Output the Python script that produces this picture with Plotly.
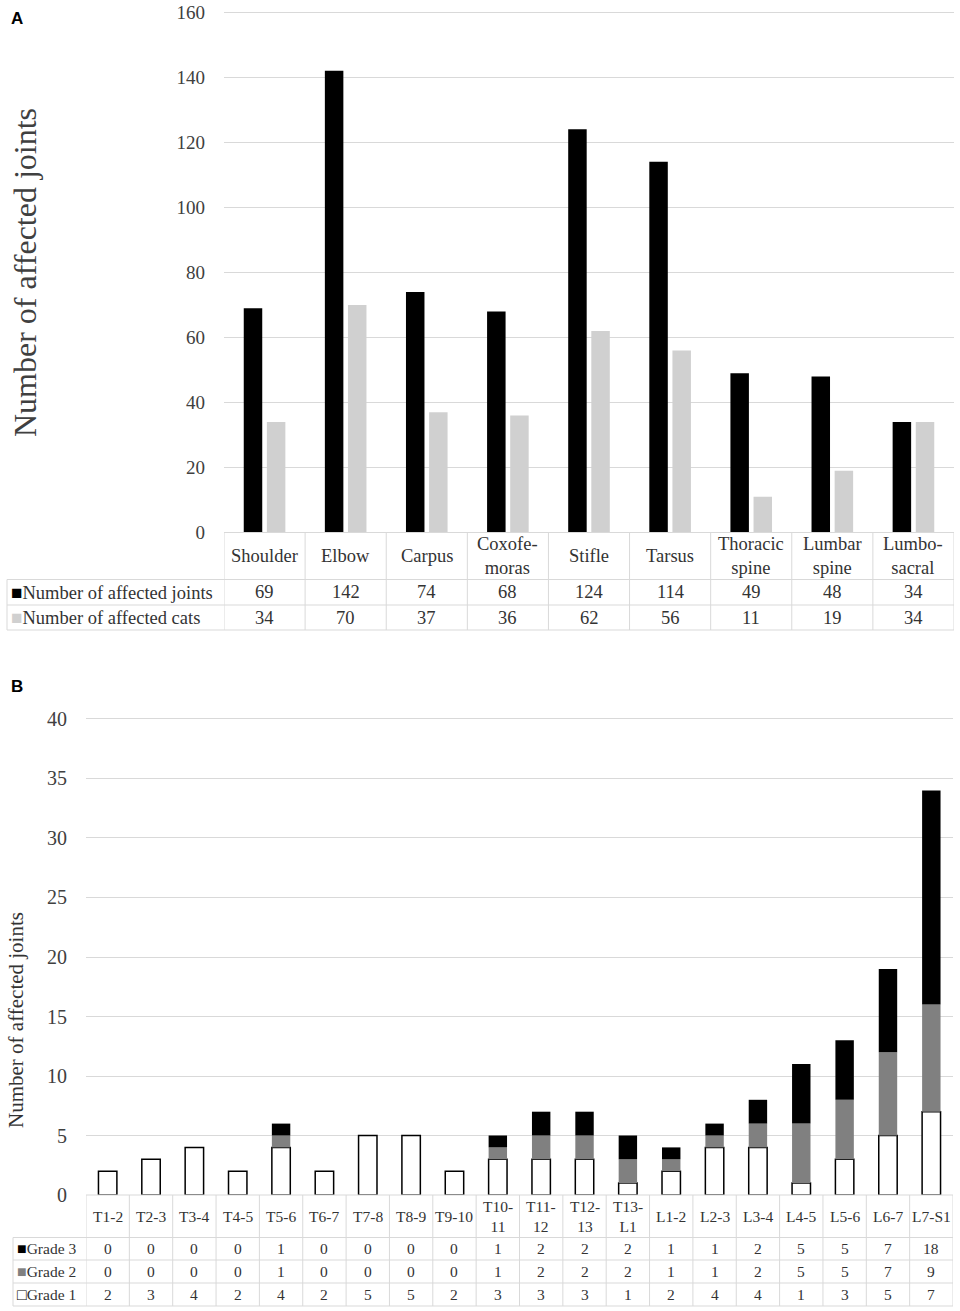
import plotly.graph_objects as go

W, H = 960, 1311

# ---- Panel A data ----
joints = ["Shoulder", "Elbow", "Carpus", "Coxofemoras", "Stifle",
          "Tarsus", "Thoracic spine", "Lumbar spine", "Lumbosacral"]
joint_labels = ["Shoulder", "Elbow", "Carpus", "Coxofe-<br>moras", "Stifle",
                "Tarsus", "Thoracic<br>spine", "Lumbar<br>spine", "Lumbo-<br>sacral"]
affected_joints = [69, 142, 74, 68, 124, 114, 49, 48, 34]
affected_cats = [34, 70, 37, 36, 62, 56, 11, 19, 34]

# ---- Panel B data ----
segments = ["T1-2", "T2-3", "T3-4", "T4-5", "T5-6", "T6-7", "T7-8", "T8-9", "T9-10",
            "T10-11", "T11-12", "T12-13", "T13-L1", "L1-2", "L2-3", "L3-4",
            "L4-5", "L5-6", "L6-7", "L7-S1"]
segment_labels = ["T1-2", "T2-3", "T3-4", "T4-5", "T5-6", "T6-7", "T7-8", "T8-9", "T9-10",
                  "T10-<br>11", "T11-<br>12", "T12-<br>13", "T13-<br>L1", "L1-2", "L2-3",
                  "L3-4", "L4-5", "L5-6", "L6-7", "L7-S1"]
grade3 = [0, 0, 0, 0, 1, 0, 0, 0, 0, 1, 2, 2, 2, 1, 1, 2, 5, 5, 7, 18]
grade2 = [0, 0, 0, 0, 1, 0, 0, 0, 0, 1, 2, 2, 2, 1, 1, 2, 5, 5, 7, 9]
grade1 = [2, 3, 4, 2, 4, 2, 5, 5, 2, 3, 3, 3, 1, 2, 4, 4, 1, 3, 5, 7]

SERIF = "Liberation Serif, Times New Roman, serif"
GRID = "#d9d9d9"
TXT = "#333333"


def px(p):
    return p / W


def py(p):
    return 1 - p / H


fig = go.Figure()

# Panel A bars
fig.add_trace(go.Bar(x=joints, y=affected_joints, name="Number of affected joints",
                     marker=dict(color="#000000", line=dict(width=0)),
                     xaxis="x", yaxis="y"))
fig.add_trace(go.Bar(x=joints, y=affected_cats, name="Number of affected cats",
                     marker=dict(color="#d0d0d0", line=dict(width=0)),
                     xaxis="x", yaxis="y"))

# Panel B stacked bars (shared offsetgroup + base so they stack in group mode)
base2 = list(grade1)
base3 = [a + b for a, b in zip(grade1, grade2)]
fig.add_trace(go.Bar(x=segments, y=grade1, name="Grade 1", offsetgroup="b", width=0.425,
                     marker=dict(color="#ffffff", line=dict(color="#000000", width=1.5)),
                     xaxis="x2", yaxis="y2"))
fig.add_trace(go.Bar(x=segments, y=grade2, base=base2, name="Grade 2", offsetgroup="b",
                     width=0.425, marker=dict(color="#808080", line=dict(width=0)),
                     xaxis="x2", yaxis="y2"))
fig.add_trace(go.Bar(x=segments, y=grade3, base=base3, name="Grade 3", offsetgroup="b",
                     width=0.425, marker=dict(color="#000000", line=dict(width=0)),
                     xaxis="x2", yaxis="y2"))

shapes = []
annotations = []


def hline(xref, x0, x1, yy):
    shapes.append(dict(type="line", xref=xref, yref="paper", x0=x0, x1=x1, y0=py(yy), y1=py(yy),
                       line=dict(color=GRID, width=1), layer="above"))


def vline(xref, xx, y0, y1):
    shapes.append(dict(type="line", xref=xref, yref="paper", x0=xx, x1=xx, y0=py(y0), y1=py(y1),
                       line=dict(color=GRID, width=1), layer="above"))


def build_table(xref, labels, rows, row_lines, left_px, right_px, font_size, key_size):
    n = len(labels)
    top, header_bot, bottom = row_lines[0], row_lines[1], row_lines[-1]
    # grid of the data table
    hline(xref, -0.5, n - 0.5, top)
    for yy in row_lines[1:]:
        hline(xref, -0.5, n - 0.5, yy)
        hline("paper", px(left_px), px(right_px), yy)
    for i in range(n + 1):
        vline(xref, i - 0.5, top, bottom)
    vline("paper", px(left_px), header_bot, bottom)
    # header (category names)
    for i, lab in enumerate(labels):
        annotations.append(dict(xref=xref, yref="paper", x=i, y=py((top + header_bot) / 2),
                                text=lab, showarrow=False, xanchor="center", yanchor="middle",
                                font=dict(family=SERIF, size=font_size, color=TXT)))
    # data rows
    for r, (key, key_color, name, vals) in enumerate(rows):
        yc = py((row_lines[r + 1] + row_lines[r + 2]) / 2)
        annotations.append(dict(xref="paper", yref="paper", x=px(left_px + 2), y=yc,
                                text=f"<span style='font-size:{key_size}px;color:{key_color}'>{key}</span>{name}",
                                showarrow=False, xanchor="left", yanchor="middle",
                                font=dict(family=SERIF, size=font_size, color=TXT)))
        for i, v in enumerate(vals):
            annotations.append(dict(xref=xref, yref="paper", x=i, y=yc, text=str(v),
                                    showarrow=False, xanchor="center", yanchor="middle",
                                    font=dict(family=SERIF, size=font_size, color=TXT)))


build_table("x", joint_labels,
            [("■", "#000000", "Number of affected joints", affected_joints),
             ("■", "#d0d0d0", "Number of affected cats", affected_cats)],
            row_lines=[532.5, 579.5, 605, 630], left_px=7, right_px=224,
            font_size=18.5, key_size=19)
build_table("x2", segment_labels,
            [("■", "#000000", "Grade 3", grade3),
             ("■", "#808080", "Grade 2", grade2),
             ("□", "#000000", "Grade 1", grade1)],
            row_lines=[1195, 1237.5, 1260, 1283, 1306], left_px=13, right_px=86,
            font_size=15.5, key_size=16)

# axis titles and panel letters
annotations.append(dict(xref="paper", yref="paper", x=px(25), y=py(273), text="Number of affected joints",
                        textangle=-90, showarrow=False, xanchor="center", yanchor="middle",
                        font=dict(family=SERIF, size=32, color="#404040")))
annotations.append(dict(xref="paper", yref="paper", x=px(16), y=py(1020), text="Number of affected joints",
                        textangle=-90, showarrow=False, xanchor="center", yanchor="middle",
                        font=dict(family=SERIF, size=21, color="#333333")))
annotations.append(dict(xref="paper", yref="paper", x=px(9), y=py(19), text="<b>A</b>",
                        showarrow=False, xanchor="left", yanchor="middle",
                        font=dict(family="Liberation Sans, Arial, sans-serif", size=17, color="#000000")))
annotations.append(dict(xref="paper", yref="paper", x=px(9), y=py(686), text="<b>B</b>",
                        showarrow=False, xanchor="left", yanchor="middle",
                        font=dict(family="Liberation Sans, Arial, sans-serif", size=17, color="#000000")))

fig.update_layout(
    width=W, height=H,
    margin=dict(l=0, r=0, t=0, b=0, autoexpand=False),
    paper_bgcolor="white", plot_bgcolor="white",
    showlegend=False,
    barmode="group", bargap=0.43, bargroupgap=0.2,
    xaxis=dict(domain=[px(224), px(954)], range=[-0.5, len(joints) - 0.5],
               showticklabels=False, showgrid=False, zeroline=False, showline=False,
               anchor="y", automargin=False),
    # range slightly above 160 so the top gridline is drawn
    yaxis=dict(domain=[py(532.5), py(9.7)], range=[0, 160.8], tickvals=list(range(0, 161, 20)),
               gridcolor=GRID, gridwidth=1, zeroline=False, showline=False,
               ticks="", ticklabelstandoff=18, anchor="x", automargin=False,
               tickfont=dict(family=SERIF, size=19, color="#404040")),
    xaxis2=dict(domain=[px(86), px(953)], range=[-0.5, len(segments) - 0.5],
                showticklabels=False, showgrid=False, zeroline=False, showline=False,
                anchor="y2", automargin=False),
    yaxis2=dict(domain=[py(1195), py(717.8)], range=[0, 40.1], tickvals=list(range(0, 41, 5)),
                gridcolor=GRID, gridwidth=1, zeroline=False, showline=False,
                ticks="", ticklabelstandoff=18, anchor="x2", automargin=False,
                tickfont=dict(family=SERIF, size=20, color="#404040")),
    shapes=shapes,
    annotations=annotations,
)

fig.write_html("out.html", config={"displayModeBar": False},
               post_script="document.body.style.margin='0';document.body.style.overflow='hidden';")
